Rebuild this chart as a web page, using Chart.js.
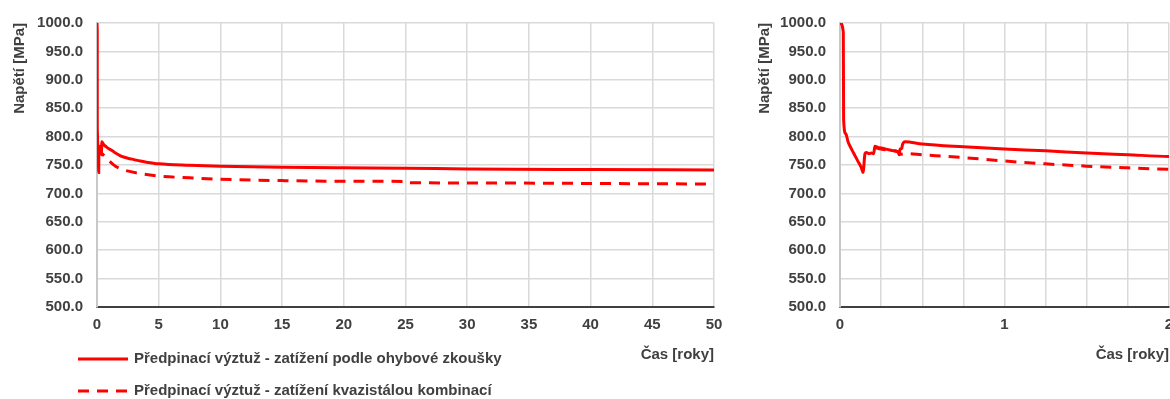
<!DOCTYPE html>
<html lang="cs">
<head>
<meta charset="utf-8">
<title>Napětí v předpínací výztuži</title>
<script src="https://cdn.jsdelivr.net/npm/chart.js@4.4.1/dist/chart.umd.min.js"></script>
<style>
  html, body { margin: 0; padding: 0; background: #fff; overflow: hidden; }
  #wrap { position: relative; width: 1170px; height: 399px; overflow: hidden; }
  #longTerm { position: absolute; left: 0; top: 0; }
  #shortTerm { position: absolute; left: 740px; top: 0; }
</style>
</head>
<body>
<div id="wrap">
  <canvas id="longTerm" width="740" height="399"></canvas>
  <canvas id="shortTerm" width="460" height="399"></canvas>
</div>
<script>
// series labels
const bendLabel = 'Předpinací výztuž - zatížení podle ohybové zkoušky';
const quasiLabel = 'Předpinací výztuž - zatížení kvazistálou kombinací';

// time [years] / stress [MPa]
const bendTime = [0, 0.02, 0.022, 0.035, 0.05, 0.07, 0.09, 0.11, 0.13, 0.14, 0.152, 0.16, 0.175, 0.19, 0.205,
  0.212, 0.23, 0.25, 0.28, 0.31, 0.34, 0.355, 0.36, 0.365, 0.375, 0.38, 0.395, 0.5, 0.75, 1, 1.25, 1.5, 1.75, 2,
  2.5, 3, 3.5, 4, 5, 7.5, 10, 15, 20, 25, 30, 40, 50];
const bendStress = [1000, 984, 830, 805, 790, 778, 767, 756, 745, 737, 770, 772, 770, 771, 770,
  783, 781, 780, 778, 776, 774, 773, 768, 778, 779, 786, 791, 787, 782, 778, 775, 771, 768, 765,
  762, 759.5, 757, 755, 752, 749.5, 748, 746, 745, 744.4, 743, 742, 741.3];

const quasiTime = [0.212, 0.25, 0.3, 0.355, 0.36, 0.4, 0.5, 0.75, 1, 1.25, 1.5, 1.75, 2,
  3.5, 5, 7.5, 10, 15, 20, 24.95, 25.05, 30, 40, 50];
const quasiStress = [781, 778, 776, 773, 769, 770, 768, 763, 757, 752, 748, 745, 742.5,
  735, 730.5, 727.5, 725, 722.5, 721.5, 721, 718.8, 718.5, 717.5, 716.5];

const xLongMax = 50;
const xLongStep = 5;
const xShortMax = 2;
const xShortStep = 0.25;
const yMin = 500;
const yMax = 1000;
const yStep = 50;

const textColor = '#404040';
const font = { family: "'Liberation Sans', Arial, sans-serif", size: 15, weight: 'bold' };

function pairs(xs, ys) {
  return xs.map((x, i) => ({ x: x, y: ys[i] }));
}

function makeDatasets() {
  return [
    {
      label: bendLabel,
      data: pairs(bendTime, bendStress),
      borderColor: '#ff0000',
      borderWidth: 3,
      pointRadius: 0,
      cubicInterpolationMode: 'monotone',
      fill: false
    },
    {
      label: quasiLabel,
      data: pairs(quasiTime, quasiStress),
      borderColor: '#ff0000',
      borderWidth: 3,
      borderDash: [11, 8],
      pointRadius: 0,
      cubicInterpolationMode: 'monotone',
      fill: false
    }
  ];
}

// legend drawn below the left plot, two rows, like the original sheet
const sideLegend = {
  id: 'sideLegend',
  afterDraw(chart) {
    const ctx = chart.ctx;
    const rows = [359, 391];
    ctx.save();
    chart.data.datasets.forEach((ds, i) => {
      const y = rows[i];
      ctx.beginPath();
      ctx.strokeStyle = ds.borderColor;
      ctx.lineWidth = ds.borderWidth;
      ctx.setLineDash(ds.borderDash || []);
      ctx.moveTo(78, y);
      ctx.lineTo(128, y);
      ctx.stroke();
      ctx.setLineDash([]);
      ctx.fillStyle = textColor;
      ctx.font = `${font.weight} ${font.size}px ${font.family}`;
      ctx.textBaseline = 'middle';
      ctx.textAlign = 'left';
      ctx.fillText(ds.label, 134, y);
    });
    ctx.restore();
  }
};

function makeOptions(xMax, xStep, yAxisWidth, yTitlePad, rightPad) {
  return {
    responsive: false,
    animation: false,
    layout: { padding: { top: 20, right: rightPad, bottom: 0, left: 0 } },
    plugins: { legend: { display: false }, tooltip: { enabled: false } },
    scales: {
      x: {
        type: 'linear',
        min: 0,
        max: xMax,
        afterFit: s => { s.height = 92; },
        ticks: {
          stepSize: xStep,
          autoSkip: false,
          maxRotation: 0,
          padding: 9,
          color: textColor,
          font: font,
          callback: v => (Number.isInteger(v) ? String(v) : '')
        },
        grid: { color: '#d9d9d9', lineWidth: 1.5, drawTicks: false },
        border: { color: '#404040', width: 2 },
        title: {
          display: true,
          text: 'Čas [roky]',
          align: 'end',
          color: textColor,
          font: font,
          padding: { top: 0, bottom: 35 }
        }
      },
      y: {
        min: yMin,
        max: yMax,
        afterFit: s => { s.width = yAxisWidth; },
        ticks: {
          stepSize: yStep,
          padding: 14,
          color: textColor,
          font: font,
          callback: v => v.toFixed(1)
        },
        grid: { color: '#d9d9d9', lineWidth: 1.5, drawTicks: false },
        border: { color: '#c8c8c8', width: 2 },
        title: {
          display: true,
          text: 'Napětí [MPa]',
          align: 'end',
          color: textColor,
          font: font,
          padding: { top: yTitlePad, bottom: 0 }
        }
      }
    }
  };
}

new Chart(document.getElementById('longTerm'), {
  type: 'line',
  data: { datasets: makeDatasets() },
  options: makeOptions(xLongMax, xLongStep, 97, 11, 26),
  plugins: [sideLegend]
});

new Chart(document.getElementById('shortTerm'), {
  type: 'line',
  data: { datasets: makeDatasets() },
  options: makeOptions(xShortMax, xShortStep, 100, 16, 31)
});
</script>
</body>
</html>
